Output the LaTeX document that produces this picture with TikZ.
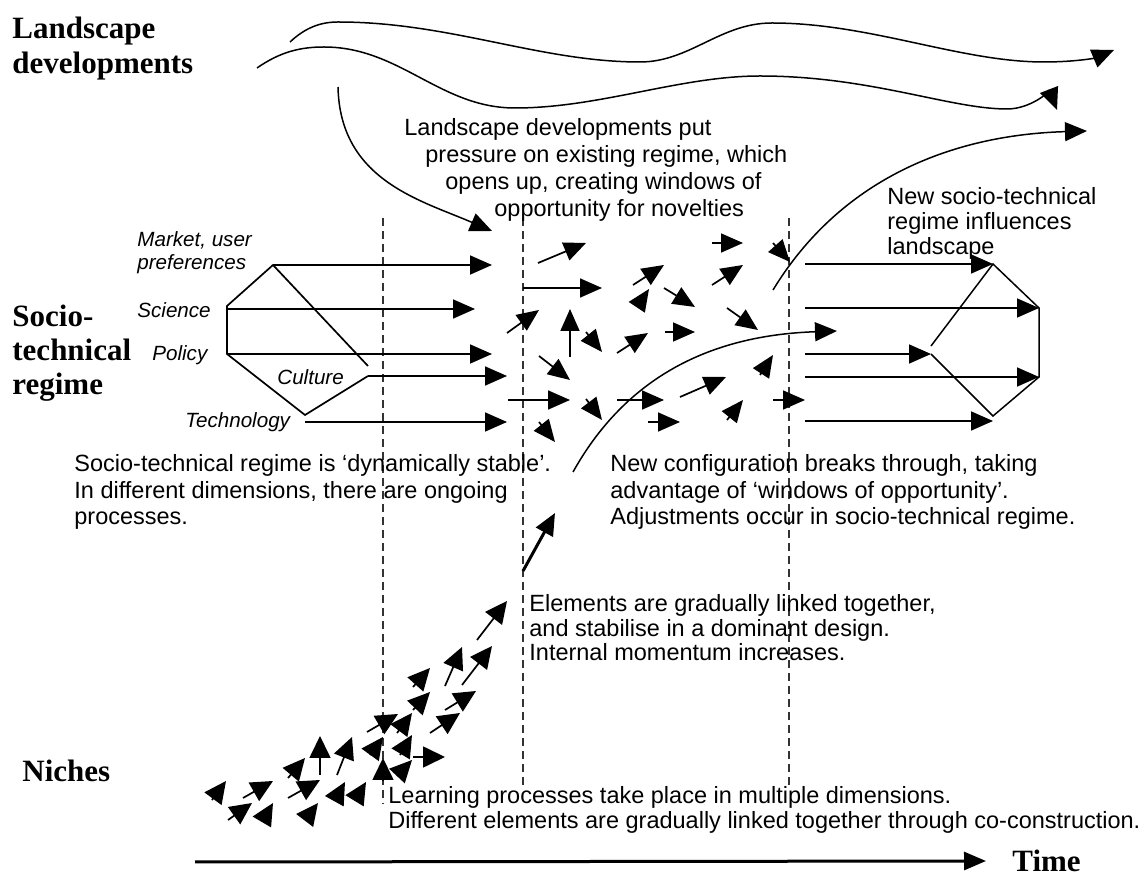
\documentclass[tikz,border=0pt]{standalone}
\usepackage{fontspec}
\setmainfont{Liberation Serif}
\setsansfont{Liberation Sans}
\usetikzlibrary{arrows.meta}

\tikzset{
  flow/.style={line width=0.85pt, -{Triangle[length=11pt,width=9.5pt]}},
  wave/.style={line width=0.75pt, -{Triangle[length=11pt,width=9.5pt]}},
  phase/.style={line width=0.65pt, black!80, dash pattern=on 4pt off 2.5pt},
  dimlabel/.style={font=\sffamily\itshape\fontsize{10.3}{11.5}\selectfont, align=left, anchor=west, inner sep=0pt},
  remark/.style={font=\sffamily\fontsize{11.75}{#1}\selectfont, align=left, anchor=west, inner sep=0pt},
  remark/.default=13.25,
  level/.style={font=\bfseries\fontsize{15.5}{#1}\selectfont, align=left, anchor=west, inner sep=0pt},
  level/.default=17,
}

\begin{document}
\begin{tikzpicture}[x=0.5pt,y=-0.5pt]
\useasboundingbox (0,0) rectangle (1147,881);

% the three levels
\node[level=17.5] (landscape) at (12,49) {Landscape\\developments};
\node[level=17] (regime) at (12,353) {Socio-\\technical\\regime};
\node[level] (niches) at (22,771) {Niches};
\node[level] (time) at (1012,861) {Time};

% phase borders
\foreach \px/\pbot in {383/804, 523/785, 789/785}
  \draw[phase] (\px,218) -- (\px,\pbot);

% landscape developments
\draw[wave] (290,42) .. controls (305,28) and (320,22) .. (338,22)
  .. controls (450,22) and (540,62) .. (640,62)
  .. controls (690,62) and (720,23) .. (772,23)
  .. controls (870,23) and (960,62) .. (1044,62)
  .. controls (1075,62) and (1095,58) .. (1114,50);
\draw[wave] (257,68) .. controls (280,52) and (300,47) .. (324,47)
  .. controls (400,47) and (440,108) .. (515,108)
  .. controls (600,108) and (680,76) .. (760,76)
  .. controls (870,76) and (950,109) .. (1007,109)
  .. controls (1030,109) and (1050,92) .. (1057,110);
\draw[wave] (338,87) .. controls (340,180) and (420,200) .. (492,231);
\draw[wave] (773,290) .. controls (840,180) and (950,135) .. (1087,131);

\node[remark=13.5] (pressure) at (404,170) {Landscape developments put\\
  \hspace*{10.5pt}pressure on existing regime, which\\
  \hspace*{20.5pt}opens up, creating windows of\\
  \hspace*{45pt}opportunity for novelties};
\node[remark=12.5] (influence) at (887,223) {New socio-technical\\regime influences\\landscape};

% existing regime
\coordinate (mkt) at (273,265);
\coordinate (sci) at (227,309);
\coordinate (pol) at (227,354);
\coordinate (cul) at (368,376);
\coordinate (culTop) at (368,366);
\coordinate (tec) at (305,422);
\coordinate (tecTop) at (305,415);
\coordinate (mktEnd) at (492,265);
\coordinate (sciEnd) at (475,309);
\coordinate (polEnd) at (492,354);
\coordinate (culEnd) at (507,376);
\coordinate (tecEnd) at (507,422);

\draw[line width=0.85pt] (culTop) -- (mkt) -- (227,306) -- (pol) -- (tecTop) -- (cul);
\draw[flow] (mkt) -- (mktEnd);
\draw[flow] (sci) -- (sciEnd);
\draw[flow] (pol) -- (polEnd);
\draw[flow] (cul) -- (culEnd);
\draw[flow] (tec) -- (tecEnd);

\node[dimlabel] (mktlbl) at (137,253) {Market, user\\preferences};
\node[dimlabel] (scilbl) at (137,310) {Science};
\node[dimlabel] (pollbl) at (152,355) {Policy};
\node[dimlabel] (cullbl) at (277,377) {Culture};
\node[dimlabel] (teclbl) at (185,422) {Technology};

% regime opens up
\foreach \sx/\sy/\tx/\ty in {538/263/586/243, 523/288/602/288, 507/333/539/310,
    570/357/570/309, 586/332/602/352, 539/356/570/380, 508/400/570/400,
    586/399/602/420, 539/422/555/442, 617/353/648/333, 633/285/664/265,
    637/307/649/289, 664/288/695/307, 665/332/695/332, 712/243/743/243,
    712/285/743/265, 773/243/790/262, 727/308/758/330, 680/397/726/377,
    760/375/773/355, 617/400/664/400, 648/422/680/422, 727/420/743/400,
    773/400/805/400}
  \draw[flow] (\sx,\sy) -- (\tx,\ty);

\draw[wave] (573,472) .. controls (630,370) and (720,335) .. (837,331);

% new regime
\coordinate (nr1) at (993,264);
\coordinate (nr2) at (1039,308);
\coordinate (nr3) at (931,354);
\coordinate (nr4) at (1039,377);
\coordinate (nr5) at (993,421);
\foreach \k/\ny in {1/264, 2/308, 3/354, 4/377, 5/421}
  \draw[flow] (805,\ny) -- (nr\k);
\draw[line width=0.75pt] (931,346) -- (nr1) -- (nr2) -- (nr4) -- (993,416) -- (nr3);

\node[remark] (stable) at (74,492) {Socio-technical regime is ‘dynamically stable’.\\
  In different dimensions, there are ongoing\\processes.};
\node[remark] (breaks) at (610,492) {New configuration breaks through, taking\\
  advantage of ‘windows of opportunity’.\\Adjustments occur in socio-technical regime.};

% niches
\draw[line width=1.5pt, -{Triangle[length=11pt,width=9.5pt]}] (523,571) -- (555,513);
\foreach \sx/\sy/\tx/\ty in {477/640/507/601, 462/685/492/646, 445/686/462/647,
    413/687/430/668, 413/710/430/692, 445/710/476/691, 430/733/460/713,
    367/732/398/714, 397/733/412/713, 400/755/412/735, 370/755/383/737,
    383/780/383/758, 397/776/412/760, 413/757/445/757, 320/775/320/736,
    337/775/352/737, 288/778/305/758, 288/798/320/780, 305/820/318/803,
    335/800/345/782, 355/800/366/782, 212/800/226/781, 243/798/273/781,
    228/820/252/803, 263/820/273/803}
  \draw[flow, -{Triangle[length=11pt,width=10.5pt]}] (\sx,\sy) -- (\tx,\ty);

\node[remark=12.3] (linked) at (529,628) {Elements are gradually linked together,\\
  and stabilise in a dominant design.\\Internal momentum increases.};
\node[remark=12.5] (learning) at (388,810) {Learning processes take place in multiple dimensions.\\
  Different elements are gradually linked together through co-construction.};

% time
\coordinate (timeStart) at (195,862);
\draw[line width=1.5pt, -{Triangle[length=11pt,width=9pt]}] (timeStart) -- ([xshift=-13pt]time.west);
\end{tikzpicture}
\end{document}
